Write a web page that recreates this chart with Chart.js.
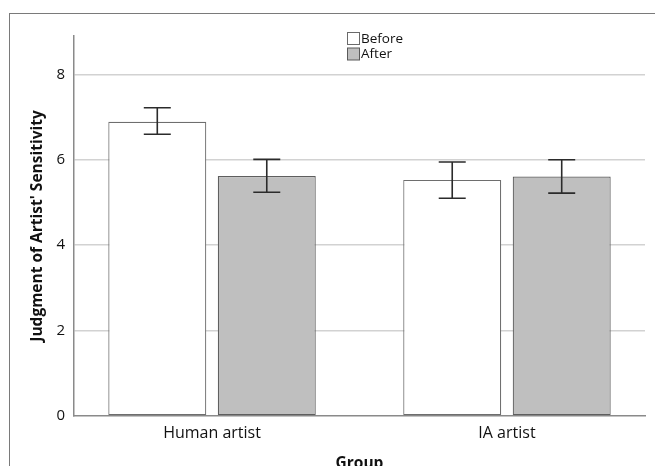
<!DOCTYPE html>
<html>
<head>
<meta charset="utf-8">
<script src="https://cdn.jsdelivr.net/npm/chart.js@4/dist/chart.umd.min.js"></script>
<style>
html,body{margin:0;padding:0;background:#fff;overflow:hidden;}
#wrap{position:relative;width:655px;height:466px;}
</style>
</head>
<body>
<div id="wrap"><canvas id="c" width="655" height="466"></canvas></div>
<script>
const groups = ["Human artist", "IA artist"];
const seriesNames = ["Before", "After"];
const beforeMeans = [6.89, 5.53];
const afterMeans = [5.62, 5.61];
const beforeLow = [6.60, 5.10];
const beforeHigh = [7.22, 5.95];
const afterLow = [5.24, 5.22];
const afterHigh = [6.01, 6.00];
const yTicks = [0, 2, 4, 6, 8];

const FONT = "'Open Sans', 'DejaVu Sans', sans-serif";

function pts(vals){ return vals.map((v,i)=>({x:i, y:v})); }

const frame = {
  id:'frame',
  beforeDraw(chart){
    const ctx = chart.ctx;
    ctx.save();
    ctx.fillStyle = '#fff';
    ctx.fillRect(0,0,chart.width,chart.height);
    ctx.strokeStyle = '#7a7a7a';
    ctx.lineWidth = 1;
    ctx.strokeRect(9.5, 13.5, 700, 500);
    ctx.restore();
  }
};

const errorBars = {
  id:'errorBars',
  afterDatasetsDraw(chart){
    const ctx = chart.ctx;
    const ys = chart.scales.y;
    const lows = [beforeLow, afterLow];
    const highs = [beforeHigh, afterHigh];
    ctx.save();
    ctx.strokeStyle = '#2b2b2b';
    ctx.lineWidth = 1.6;
    chart.data.datasets.forEach((ds, di) => {
      const meta = chart.getDatasetMeta(di);
      meta.data.forEach((bar, i) => {
        const x = bar.x;
        const yl = ys.getPixelForValue(lows[di][i]);
        const yh = ys.getPixelForValue(highs[di][i]);
        const cap = 13.5;
        ctx.beginPath();
        ctx.moveTo(x, yl); ctx.lineTo(x, yh);
        ctx.moveTo(x-cap, yl); ctx.lineTo(x+cap, yl);
        ctx.moveTo(x-cap, yh); ctx.lineTo(x+cap, yh);
        ctx.stroke();
      });
    });
    ctx.restore();
  }
};

const legendBox = {
  id:'legendBox',
  afterDraw(chart){
    const ctx = chart.ctx;
    ctx.save();
    const fills = ['#ffffff', '#bfbfbf'];
    const strokes = ['#6a6a6a', '#5a5a5a'];
    const tops = [32.5, 48];
    ctx.font = '13.5px ' + FONT;
    ctx.textBaseline = 'middle';
    ctx.fillStyle = '#111';
    seriesNames.forEach((n, i) => {
      ctx.fillStyle = fills[i];
      ctx.fillRect(347.5, tops[i], 12, 12);
      ctx.strokeStyle = strokes[i];
      ctx.lineWidth = 1;
      ctx.strokeRect(347.5, tops[i], 12, 12);
      ctx.fillStyle = '#111';
      ctx.fillText(n, 361, tops[i] + 6.5);
    });
    ctx.restore();
  }
};

new Chart(document.getElementById('c'), {
  type: 'bar',
  data: {
    datasets: [
      { label: seriesNames[0], data: pts(beforeMeans), backgroundColor: '#ffffff', borderColor: '#6e6e6e', borderWidth: 1.2, borderSkipped: false },
      { label: seriesNames[1], data: pts(afterMeans), backgroundColor: '#bfbfbf', borderColor: '#5e5e5e', borderWidth: 1.2, borderSkipped: false }
    ]
  },
  options: {
    responsive: false,
    animation: false,
    devicePixelRatio: 1,
    categoryPercentage: 0.7424,
    barPercentage: 0.895,
    layout: { padding: { left: 0, right: 10, top: 36, bottom: 0 } },
    plugins: { legend: { display: false }, tooltip: { enabled: false } },
    scales: {
      x: {
        type: 'linear',
        offset: false,
        min: -0.468,
        max: 1.468,
        afterBuildTicks(s){ s.ticks = groups.map((g,i)=>({value:i})); },
        afterFit(s){ s.height = 50; },
        grid: { display: false, drawTicks: false, offset: false },
        border: { display: true, color: '#8a8a8a', width: 1.5 },
        ticks: {
          autoSkip: false, maxRotation: 0, padding: 8,
          color: '#111', font: { family: FONT, size: 16 },
          callback: (v) => groups[v] !== undefined ? groups[v] : ''
        },
        title: { display: true, text: 'Group', color: '#111', font: { family: FONT, size: 15.5, weight: 'bold' }, padding: { top: 0, bottom: -7.3 } }
      },
      y: {
        min: 0,
        max: 8.9,
        afterBuildTicks(s){ s.ticks = yTicks.map(v=>({value:v})); },
        afterFit(s){ s.width = 74; },
        grid: { color: (c) => c.tick && c.tick.value === 0 ? 'rgba(0,0,0,0)' : '#d2d2d2', lineWidth: 1.5, drawTicks: false },
        border: { display: true, color: '#8a8a8a', width: 1.5 },
        ticks: { padding: 9, color: '#111', font: { family: FONT, size: 15 } },
        title: { display: true, text: "Judgment of Artist' Sensitivity", color: '#111', font: { family: FONT, size: 15.5, weight: 'bold' }, padding: { top: 28.7, bottom: 0 } }
      }
    }
  },
  plugins: [frame, errorBars, legendBox]
});
</script>
</body>
</html>
